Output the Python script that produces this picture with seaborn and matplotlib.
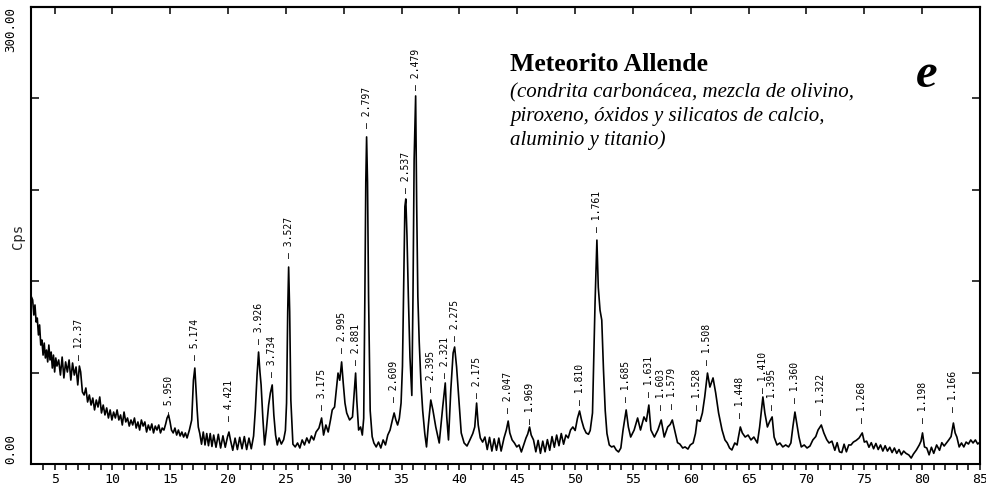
import matplotlib
matplotlib.use("Agg")
import matplotlib.pyplot as plt
import seaborn as sns
import pandas as pd

# ---- data (2-theta in degrees, intensity in Cps) ----
two_theta = [
    3.00, 3.10, 3.20, 3.30, 3.40, 3.50, 3.60, 3.70, 3.80, 3.90, 4.00, 4.10, 4.20, 4.30, 4.40,
    4.50, 4.60, 4.70, 4.80, 4.90, 5.00, 5.10, 5.20, 5.35, 5.50, 5.65, 5.80, 5.95, 6.10, 6.25,
    6.40, 6.55, 6.70, 6.85, 7.00, 7.14, 7.25, 7.40, 7.55, 7.70, 7.85, 8.00, 8.15, 8.30, 8.45,
    8.60, 8.75, 8.90, 9.05, 9.20, 9.35, 9.50, 9.65, 9.80, 9.95, 10.10, 10.25, 10.40, 10.55,
    10.70, 10.85, 11.00, 11.15, 11.30, 11.45, 11.60, 11.75, 11.90, 12.05, 12.20, 12.35, 12.50,
    12.65, 12.80, 12.95, 13.10, 13.25, 13.40, 13.55, 13.70, 13.85, 14.00, 14.15, 14.30, 14.45,
    14.60, 14.72, 14.85, 14.98, 15.10, 15.25, 15.40, 15.55, 15.70, 15.85, 16.00, 16.15, 16.30,
    16.45, 16.65, 16.85, 17.00, 17.12, 17.22, 17.32, 17.42, 17.55, 17.70, 17.85, 18.00, 18.15,
    18.30, 18.45, 18.60, 18.75, 18.95, 19.15, 19.35, 19.55, 19.75, 19.95, 20.07, 20.20, 20.40,
    20.60, 20.80, 21.00, 21.20, 21.40, 21.60, 21.80, 22.00, 22.20, 22.35, 22.50, 22.63, 22.75,
    22.85, 23.00, 23.15, 23.30, 23.50, 23.65, 23.81, 23.95, 24.10, 24.25, 24.40, 24.60, 24.80,
    24.95, 25.05, 25.15, 25.23, 25.32, 25.42, 25.60, 25.80, 26.00, 26.20, 26.40, 26.60, 26.80,
    27.00, 27.20, 27.40, 27.60, 27.85, 28.08, 28.25, 28.45, 28.65, 28.85, 29.00, 29.20, 29.35,
    29.50, 29.65, 29.81, 29.95, 30.10, 30.25, 30.50, 30.75, 30.90, 31.02, 31.12, 31.28, 31.45,
    31.60, 31.72, 31.82, 31.90, 31.97, 32.05, 32.14, 32.28, 32.45, 32.60, 32.80, 33.00, 33.20,
    33.40, 33.60, 33.80, 34.00, 34.20, 34.35, 34.50, 34.65, 34.80, 34.95, 35.07, 35.20, 35.28,
    35.36, 35.46, 35.58, 35.72, 35.88, 35.98, 36.08, 36.21, 36.30, 36.40, 36.52, 36.67, 36.82,
    37.00, 37.15, 37.30, 37.52, 37.70, 37.95, 38.25, 38.55, 38.77, 38.90, 39.05, 39.25, 39.45,
    39.58, 39.75, 39.95, 40.15, 40.40, 40.65, 40.90, 41.15, 41.32, 41.48, 41.62, 41.80, 42.00,
    42.20, 42.40, 42.60, 42.80, 43.00, 43.20, 43.40, 43.60, 43.85, 44.05, 44.21, 44.35, 44.55,
    44.75, 44.95, 45.15, 45.35, 45.55, 45.75, 45.90, 46.06, 46.20, 46.40, 46.60, 46.80, 47.00,
    47.20, 47.40, 47.60, 47.80, 48.00, 48.20, 48.40, 48.60, 48.80, 49.00, 49.20, 49.40, 49.60,
    49.80, 50.00, 50.20, 50.38, 50.55, 50.75, 50.95, 51.15, 51.30, 51.50, 51.72, 51.88, 52.00,
    52.15, 52.30, 52.45, 52.60, 52.75, 52.95, 53.15, 53.35, 53.55, 53.75, 53.95, 54.14, 54.41,
    54.60, 54.80, 55.10, 55.40, 55.65, 55.95, 56.15, 56.37, 56.55, 56.85, 57.15, 57.44, 57.70,
    58.00, 58.22, 58.40, 58.60, 58.85, 59.05, 59.30, 59.50, 59.75, 59.95, 60.20, 60.40, 60.55,
    60.80, 61.00, 61.20, 61.44, 61.65, 61.92, 62.15, 62.40, 62.70, 62.95, 63.15, 63.35, 63.55,
    63.80, 64.00, 64.10, 64.28, 64.45, 64.70, 64.95, 65.20, 65.45, 65.75, 65.95, 66.23, 66.40,
    66.62, 66.82, 67.03, 67.20, 67.45, 67.70, 67.95, 68.20, 68.45, 68.65, 68.82, 69.00, 69.15,
    69.35, 69.55, 69.80, 70.05, 70.30, 70.55, 70.80, 71.00, 71.28, 71.50, 71.75, 71.95, 72.20,
    72.45, 72.65, 72.85, 73.05, 73.25, 73.45, 73.65, 73.85, 74.05, 74.30, 74.55, 74.82, 75.00,
    75.20, 75.40, 75.60, 75.80, 76.00, 76.20, 76.40, 76.60, 76.80, 77.00, 77.20, 77.40, 77.60,
    77.80, 78.00, 78.20, 78.40, 78.60, 78.85, 79.05, 79.25, 79.50, 79.75, 79.90, 80.03, 80.20,
    80.40, 80.60, 80.80, 81.00, 81.25, 81.50, 81.70, 81.90, 82.10, 82.30, 82.50, 82.70, 82.85,
    83.00, 83.20, 83.40, 83.60, 83.80, 84.00, 84.20, 84.40, 84.60, 84.80, 85.00,
]
cps = [
    109.6, 107.7, 97.8, 104.4, 93.2, 95.8, 84.7, 91.3, 78.1, 81.4, 71.5, 79.4, 69.6, 74.8, 67.0,
    78.1, 68.3, 73.5, 63.0, 71.5, 60.4, 69.6, 64.3, 68.3, 58.4, 70.2, 56.5, 67.0, 60.4, 68.3,
    55.1, 66.3, 58.4, 63.7, 51.9, 64.3, 60.4, 47.3, 45.3, 49.9, 40.7, 45.3, 38.7, 43.3, 35.5,
    42.0, 37.4, 44.0, 33.5, 38.7, 32.2, 36.8, 30.2, 35.5, 28.9, 34.1, 30.2, 35.5, 28.9,
    32.2, 25.6, 34.1, 27.6, 30.2, 24.9, 28.9, 25.6, 30.2, 23.6, 27.6, 22.3, 28.9,
    24.9, 27.6, 21.0, 25.6, 22.3, 26.3, 20.4, 24.9, 22.3, 25.6, 20.4, 23.6, 22.3,
    26.3, 30.2, 32.2, 27.6, 22.3, 20.4, 23.6, 19.0, 22.3, 18.4, 21.0, 17.7, 20.4,
    17.1, 22.3, 28.9, 55.1, 63.0, 48.6, 35.5, 24.3, 20.0, 13.0, 21.0, 12.5, 20.0,
    12.0, 20.0, 11.5, 19.0, 11.0, 19.5, 10.5, 18.5, 11.0, 18.0, 21.0, 15.8, 9.0,
    17.0, 9.5, 17.5, 10.0, 18.0, 9.5, 17.0, 10.0, 18.4, 35.5, 58.4, 73.5, 60.4,
    51.9, 30.2, 12.5, 22.3, 38.7, 46.6, 51.9, 32.2, 19.0, 12.5, 17.1, 13.1, 16.0,
    22.0, 40.0, 100.0, 129.3, 100.0, 42.0, 13.0, 11.2, 13.8, 10.5, 15.8, 12.5, 17.1,
    13.8, 18.4, 15.8, 21.0, 23.6, 30.2, 19.0, 25.6, 21.0, 28.9, 35.5, 37.4, 48.6,
    59.7, 55.0, 67.0, 53.2, 40.0, 33.5, 28.9, 30.9, 46.6, 59.7, 42.0, 22.3, 24.3,
    19.0, 30.0, 110.0, 185.0, 214.7, 185.0, 110.0, 35.0, 18.0, 13.8, 11.2, 14.4, 10.5,
    15.8, 12.5, 19.0, 22.3, 28.9, 33.5, 28.9, 25.6, 30.0, 40.0, 64.0, 129.0, 169.0,
    174.0, 150.0, 110.0, 70.0, 45.0, 110.0, 200.0, 241.6, 170.0, 110.0, 80.0, 53.0, 35.0,
    20.0, 11.2, 25.0, 42.0, 35.5, 24.3, 13.8, 37.4, 53.2, 30.9, 15.8, 48.6, 72.9,
    76.8, 63.7, 42.0, 20.4, 13.8, 11.8, 15.8, 20.0, 24.3, 40.0, 25.6, 17.1, 14.4,
    17.7, 9.5, 17.5, 8.5, 16.5, 9.0, 17.0, 8.5, 17.1, 22.3, 28.2, 20.4, 15.8,
    13.8, 11.2, 12.5, 7.9, 12.5, 17.1, 19.7, 24.3, 19.0, 15.8, 8.0, 15.5, 7.0,
    15.0, 8.0, 16.0, 9.0, 18.0, 11.0, 19.0, 12.0, 20.0, 13.0, 19.0, 17.1, 22.3,
    24.3, 22.0, 30.0, 34.8, 28.9, 23.6, 20.4, 19.5, 22.0, 33.5, 105.7, 147.0, 116.0,
    101.0, 94.5, 61.7, 35.0, 20.0, 12.5, 11.2, 11.8, 9.2, 7.9, 10.5, 22.3, 35.5,
    24.3, 17.7, 22.3, 30.2, 22.3, 30.9, 28.0, 38.7, 22.3, 17.7, 22.3, 28.9, 17.7,
    24.3, 26.0, 28.9, 22.3, 14.0, 13.1, 10.5, 11.2, 9.8, 12.5, 13.8, 20.0, 28.9,
    28.0, 33.5, 44.0, 59.7, 50.5, 56.5, 46.6, 33.5, 22.3, 15.8, 13.8, 10.5, 9.2,
    13.8, 12.5, 17.0, 24.3, 20.4, 17.7, 19.0, 15.8, 17.7, 13.8, 24.3, 44.0, 33.5,
    24.3, 28.0, 30.9, 17.7, 12.5, 13.8, 11.2, 12.5, 11.2, 13.8, 24.3, 34.1, 26.9,
    17.7, 11.2, 12.5, 10.5, 11.8, 15.8, 18.0, 22.3, 25.6, 20.4, 16.0, 13.8, 15.0,
    9.0, 14.0, 8.0, 7.5, 13.0, 8.0, 12.5, 12.5, 14.4, 15.5, 17.1, 20.4, 14.4,
    15.0, 11.0, 14.0, 10.0, 13.5, 9.5, 12.5, 8.5, 12.0, 8.5, 11.0, 7.5, 10.5,
    7.0, 9.5, 6.0, 8.5, 7.0, 5.9, 3.9, 6.6, 9.2, 12.5, 15.0, 20.4, 11.2,
    10.5, 6.0, 11.0, 7.0, 12.5, 9.0, 14.0, 11.8, 13.8, 15.8, 18.0, 26.9, 20.4,
    17.7, 11.2, 13.8, 11.2, 14.4, 13.1, 15.8, 13.8, 15.8, 13.1, 14.4,
]

peak_labels = ["12.37", "5.950", "5.174", "4.421", "3.926", "3.734", "3.527", "3.175",
               "2.995", "2.881", "2.797", "2.609", "2.537", "2.479", "2.395", "2.321",
               "2.275", "2.175", "2.047", "1.969", "1.810", "1.761", "1.685", "1.631",
               "1.603", "1.579", "1.528", "1.508", "1.448", "1.410", "1.395", "1.360",
               "1.322", "1.268", "1.198", "1.166"]
label_two_theta = [7.14, 14.88, 17.12, 20.07, 22.63, 23.81, 25.23, 28.08, 29.81, 31.02,
                   31.97, 34.35, 35.35, 36.21, 37.52, 38.77, 39.58, 41.48, 44.21, 46.06,
                   50.38, 51.88, 54.41, 56.37, 57.44, 58.40, 60.55, 61.44, 64.28, 66.23,
                   67.03, 69.00, 71.28, 74.82, 80.03, 82.70]
label_cps = [68, 31, 68, 28, 79, 57, 135, 35.5, 73, 65, 220.6, 41, 178, 245.5, 47, 56.5,
             81, 43, 33.5, 26, 39, 152, 41, 44, 35.5, 36, 35.5, 65, 30, 46.6, 35.5, 40,
             32, 27, 27, 34]

x_ticks = [5, 10, 15, 20, 25, 30, 35, 40, 45, 50, 55, 60, 65, 70, 75, 80, 85]
y_ticks = [0, 60, 120, 180, 240, 300]
y_tick_labels = ["0.00", "", "", "", "", "300.00"]

title = "Meteorito Allende"
subtitle_lines = ["(condrita carbonácea, mezcla de olivino,",
                  "piroxeno, óxidos y silicatos de calcio,",
                  "aluminio y titanio)"]
panel_letter = "e"

# ---- figure ----
sns.set_theme(style="white")
plt.rcParams["font.family"] = ["DejaVu Sans Mono", "DejaVu Sans"]
MONO = "DejaVu Sans Mono"

W, H = 987, 488
fig = plt.figure(figsize=(W / 100, H / 100), dpi=100)
fig.patch.set_facecolor("white")
ax = fig.add_axes([31.5 / W, 24 / H, (980 - 31.5) / W, 457 / H])
ax.set_facecolor("white")

df = pd.DataFrame({"two_theta": two_theta, "cps": cps})
sns.lineplot(data=df, x="two_theta", y="cps", ax=ax, color="black", linewidth=1.2,
             estimator=None, sort=False)

ax.set_xlim(3, 85)
ax.set_ylim(0, 300)

for s in ax.spines.values():
    s.set_color("black")
    s.set_linewidth(1.5)

# x axis: labelled major ticks every 5, minor every 1, ticks pointing down
ax.set_xticks(x_ticks)
ax.set_xticklabels([str(v) for v in x_ticks], fontfamily=MONO, fontsize=9.5)
ax.set_xticks(range(4, 86), minor=True)
ax.tick_params(axis="x", which="both", direction="out", length=4, width=1.1,
               bottom=True, top=False, color="black", pad=2.5, labelcolor="black")

# top ticks (inward) at every 5 degrees
sec = ax.secondary_xaxis("top")
sec.set_xticks(x_ticks)
sec.set_xticklabels([])
sec.tick_params(direction="in", length=5, width=1.1, color="black")
sec.spines["top"].set_linewidth(1.5)

# y axis: inward ticks on both sides, only end values labelled
ax.set_yticks(y_ticks)
ax.set_yticklabels(y_tick_labels, fontfamily=MONO, fontsize=9, rotation=90)
ax.tick_params(axis="y", which="major", direction="in", length=6, width=1.1,
               left=True, right=True, color="black", pad=10, labelcolor="black")
ylabs = ax.get_yticklabels()
ylabs[0].set_va("bottom")
ylabs[-1].set_va("top")
for lab in ylabs:
    lab.set_ha("right")

ax.set_xlabel("")
ax.set_ylabel("Cps", fontfamily=MONO, fontsize=10)
ax.yaxis.set_label_coords(-0.007, 0.497)

# peak d-spacing labels
for lab, xv, yv in zip(peak_labels, label_two_theta, label_cps):
    ax.annotate("\u2013 " + lab, xy=(xv, yv), ha="center", va="bottom", rotation=90,
                fontfamily=MONO, fontsize=7, color="black")

# title block
fig.text(510 / W, 1 - 71 / H, title, fontfamily="Liberation Serif", fontweight="bold",
         fontsize=18.5, ha="left", va="baseline", color="black")
for i, line in enumerate(subtitle_lines):
    fig.text(510 / W, 1 - (97 + 24 * i) / H, line, fontfamily="Liberation Serif",
             fontstyle="italic", fontsize=15, ha="left", va="baseline", color="black")
fig.text(927 / W, 1 - 87 / H, panel_letter, fontfamily="Liberation Serif",
         fontweight="bold", fontstyle="italic", fontsize=35, ha="center", va="baseline",
         color="black")

fig.savefig("out.png", dpi=100, facecolor="white")
